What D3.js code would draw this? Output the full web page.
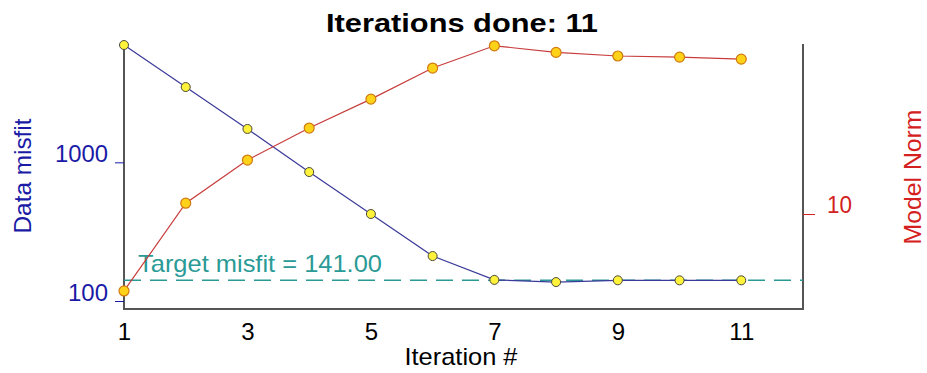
<!DOCTYPE html>
<html>
<head>
<meta charset="utf-8">
<script src="https://cdn.jsdelivr.net/npm/d3@7"></script>
<style>
  html, body { margin: 0; padding: 0; background: #fff; }
  svg { display: block; font-family: Arial, "Liberation Sans", sans-serif; }
</style>
</head>
<body>
<svg id="chart" width="927" height="373"></svg>
<script>
// Inversion convergence: data misfit (left, log) and model norm (right, log) per iteration
const iterations = [1, 2, 3, 4, 5, 6, 7, 8, 9, 10, 11];
const dataMisfit = [7010, 3490, 1740, 851, 424, 211, 142, 137, 141, 141, 141];
const modelNorm = [4.47, 11.2, 17.6, 24.6, 33.3, 46.1, 58.2, 54.3, 52.3, 51.7, 50.6];
const targetMisfit = 141.00;
const xTicks = [1, 3, 5, 7, 9, 11];
const misfitTicks = [100, 1000];
const normTicks = [10];

const svg = d3.select("#chart");
const plotLeft = 124, plotRight = 803, plotTop = 44, plotBottom = 309;

const x = d3.scaleLinear().domain([1, 12]).range([plotLeft, plotRight]);
const yMisfit = d3.scaleLog().domain([87.6, 7130]).range([plotBottom, plotTop]);
const yNorm = d3.scaleLog().domain([3.70, 59.3]).range([plotBottom, plotTop]);

const blue = "#1a1aa6", red = "#d42020", teal = "#2a9a96";
const fontFam = "Arial, 'Liberation Sans', sans-serif";

// Title
svg.append("text").attr("x", 462).attr("y", 32).attr("text-anchor", "middle")
  .attr("font-size", 26).attr("font-weight", "bold").attr("fill", "#000")
  .attr("textLength", 272).attr("lengthAdjust", "spacingAndGlyphs")
  .text("Iterations done: 11");

// Frame: left, bottom and right axis lines
svg.append("path")
  .attr("d", `M${plotLeft},${plotTop}V${plotBottom}H${plotRight}V${plotTop}`)
  .attr("fill", "none").attr("stroke", "#555").attr("stroke-width", 2);

// Left axis (data misfit)
const gL = svg.append("g").attr("transform", `translate(${plotLeft},0)`)
  .call(d3.axisLeft(yMisfit).tickValues(misfitTicks).tickFormat(d3.format("d")).tickSize(9).tickPadding(7));
gL.select(".domain").remove();
gL.selectAll(".tick line").attr("stroke", blue);
gL.selectAll(".tick text").attr("fill", blue).attr("font-size", 23)
  .attr("font-family", fontFam).attr("y", -8)
  .attr("textLength", d => d === 1000 ? 53 : 40).attr("lengthAdjust", "spacingAndGlyphs");

// Right axis (model norm)
const gR = svg.append("g").attr("transform", `translate(${plotRight},0)`)
  .call(d3.axisRight(yNorm).tickValues(normTicks).tickFormat(d3.format("d")).tickSize(12).tickPadding(12));
gR.select(".domain").remove();
gR.selectAll(".tick line").attr("stroke", red);
gR.selectAll(".tick text").attr("fill", red).attr("font-size", 23)
  .attr("font-family", fontFam).attr("y", -9)
  .attr("textLength", 25).attr("lengthAdjust", "spacingAndGlyphs");

// Bottom axis (iteration number)
const gB = svg.append("g").attr("transform", `translate(0,${plotBottom})`)
  .call(d3.axisBottom(x).tickValues(xTicks).tickFormat(d3.format("d")).tickSize(0).tickPadding(14));
gB.select(".domain").remove();
gB.selectAll(".tick text").attr("fill", "#000").attr("font-size", 24)
  .attr("font-family", fontFam);

// Axis titles
svg.append("text").attr("x", 461).attr("y", 365).attr("text-anchor", "middle")
  .attr("font-size", 24).attr("fill", "#000")
  .attr("textLength", 113).attr("lengthAdjust", "spacingAndGlyphs").text("Iteration #");
svg.append("text").attr("transform", "translate(31,176) rotate(-90)").attr("text-anchor", "middle")
  .attr("font-size", 24).attr("fill", blue)
  .attr("textLength", 115).attr("lengthAdjust", "spacingAndGlyphs").text("Data misfit");
svg.append("text").attr("transform", "translate(921,177) rotate(-90)").attr("text-anchor", "middle")
  .attr("font-size", 24).attr("fill", red)
  .attr("textLength", 135).attr("lengthAdjust", "spacingAndGlyphs").text("Model Norm");

// Target misfit reference line
svg.append("line")
  .attr("x1", plotLeft).attr("x2", plotRight)
  .attr("y1", yMisfit(targetMisfit)).attr("y2", yMisfit(targetMisfit))
  .attr("stroke", teal).attr("stroke-width", 1.5).attr("stroke-dasharray", "17,9");
svg.append("text").attr("x", 138).attr("y", yMisfit(targetMisfit) - 8)
  .attr("font-size", 24).attr("fill", teal)
  .attr("textLength", 244).attr("lengthAdjust", "spacingAndGlyphs")
  .text(`Target misfit = ${targetMisfit.toFixed(2)}`);

// Data misfit series
const misfitPts = iterations.map((it, i) => [it, dataMisfit[i]]);
svg.append("path").datum(misfitPts)
  .attr("d", d3.line().x(d => x(d[0])).y(d => yMisfit(d[1])))
  .attr("fill", "none").attr("stroke", "#3a3a9a").attr("stroke-width", 1.2);
svg.selectAll("circle.misfit").data(misfitPts).join("circle").attr("class", "misfit")
  .attr("cx", d => x(d[0])).attr("cy", d => yMisfit(d[1])).attr("r", 4.5)
  .attr("fill", "#fff23a").attr("stroke", "#4a4a3a").attr("stroke-width", 1);

// Model norm series
const normPts = iterations.map((it, i) => [it, modelNorm[i]]);
svg.append("path").datum(normPts)
  .attr("d", d3.line().x(d => x(d[0])).y(d => yNorm(d[1])))
  .attr("fill", "none").attr("stroke", "#c83c3c").attr("stroke-width", 1.2);
svg.selectAll("circle.norm").data(normPts).join("circle").attr("class", "norm")
  .attr("cx", d => x(d[0])).attr("cy", d => yNorm(d[1])).attr("r", 5)
  .attr("fill", "#ffd21a").attr("stroke", "#d07a10").attr("stroke-width", 1.2);
</script>
</body>
</html>
